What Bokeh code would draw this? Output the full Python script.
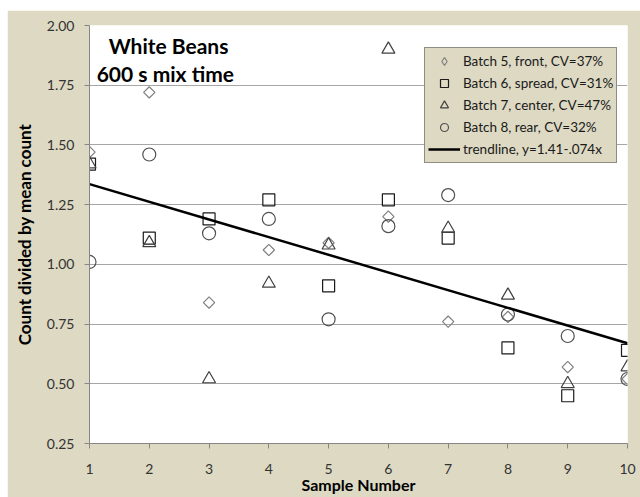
import math
from bokeh.plotting import figure
from bokeh.models import Legend, LegendItem, Label, Range1d, FixedTicker, CustomJSTickFormatter
from bokeh.embed import file_html
from bokeh.resources import INLINE

samples = [1, 2, 3, 4, 5, 6, 7, 8, 9, 10]
batch5_front = [1.47, 1.72, 0.84, 1.06, 1.09, 1.20, 0.76, 0.78, 0.57, 0.52]
batch6_spread = [1.42, 1.11, 1.19, 1.27, 0.91, 1.27, 1.11, 0.65, 0.45, 0.64]
batch7_center = [1.42, 1.09, 0.52, 0.92, 1.08, 1.90, 1.15, 0.87, 0.50, 0.57]
batch8_rear = [1.01, 1.46, 1.13, 1.19, 0.77, 1.16, 1.29, 0.79, 0.70, 0.52]
trend_x = [1, 10]
trend_y = [1.336, 0.670]

labels = ["Batch 5, front, CV=37%", "Batch 6, spread, CV=31%",
          "Batch 7, center, CV=47%", "Batch 8, rear, CV=32%",
          "trendline, y=1.41-.074x"]
y_ticks = [0.25, 0.50, 0.75, 1.00, 1.25, 1.50, 1.75, 2.00]

BEIGE = "#DDD9C3"
FONT = "Lato"
NAN = float("nan")

p = figure(width=633, height=487, output_backend="svg", toolbar_location=None,
           x_range=Range1d(1, 10), y_range=Range1d(0.25, 2.0),
           min_border_left=82, min_border_right=13, min_border_top=15, min_border_bottom=54,
           margin=(10, 0, 0, 7))
p.background_fill_color = "white"
p.border_fill_color = BEIGE
p.outline_line_color = None

for ax in (p.xaxis[0], p.yaxis[0]):
    ax.axis_line_color = "#868686"
    ax.major_tick_line_color = "#868686"
    ax.minor_tick_line_color = None
    ax.major_tick_in = 0
    ax.major_tick_out = 5
    ax.major_label_text_font = FONT
    ax.major_label_text_font_size = "14px"
    ax.major_label_text_color = "#333333"
    ax.axis_label_text_font = FONT
    ax.axis_label_text_font_size = "17px"
    ax.axis_label_text_font_style = "bold"
    ax.axis_label_text_color = "black"

p.xaxis.ticker = FixedTicker(ticks=samples)
p.xaxis.major_label_standoff = 15
p.xaxis.axis_label = "Sample Number"
p.xaxis.axis_label_standoff = -2
p.xaxis.axis_label_text_font_size = "16px"

p.yaxis.ticker = FixedTicker(ticks=y_ticks)
p.yaxis.formatter = CustomJSTickFormatter(code="return tick.toFixed(2);")
p.yaxis.major_label_standoff = 10
p.yaxis.axis_label = "Count divided by mean count"
p.yaxis.axis_label_standoff = 9

p.xgrid.grid_line_color = None
p.ygrid.grid_line_color = "#A6A6A6"
p.ygrid.grid_line_width = 1.2
p.ygrid.ticker = FixedTicker(ticks=y_ticks)

styles = [
    dict(marker="square", angle=math.pi / 4, line_color="#808080"),
    dict(marker="square", angle=0, line_color="#1a1a1a"),
    dict(marker="triangle", angle=0, line_color="#404040"),
    dict(marker="circle", angle=0, line_color="#505050"),
]
legend_styles = [
    dict(marker="diamond", line_color="#808080"),
    dict(marker="square", line_color="#1a1a1a"),
    dict(marker="triangle", line_color="#404040"),
    dict(marker="circle", line_color="#505050"),
]
sizes = [8, 12, 13, 13]
legend_sizes = [10, 9, 9, 9]
series = [batch5_front, batch6_spread, batch7_center, batch8_rear]

legend_renderers = []
for ys, st, lst, sz, lsz in zip(series, styles, legend_styles, sizes, legend_sizes):
    p.scatter(samples, ys, size=sz, fill_color=None, line_width=1.2, **st)
    legend_renderers.append(
        p.scatter([NAN], [NAN], size=lsz, fill_color=None, line_width=1.2, **lst))

rt = p.line(trend_x, trend_y, line_color="black", line_width=2.5)
legend_renderers.append(rt)

legend = Legend(items=[LegendItem(label=lab, renderers=[r])
                       for lab, r in zip(labels, legend_renderers)],
                location=(335, 280))
legend.background_fill_color = BEIGE
legend.background_fill_alpha = 1
legend.border_line_color = "#404040"
legend.border_line_width = 1
legend.label_text_font = FONT
legend.label_text_font_size = "13.5px"
legend.label_text_color = "#1a1a1a"
legend.glyph_width = 32
legend.glyph_height = 20
legend.label_height = 20
legend.spacing = 2
legend.padding = 3
legend.margin = 0
legend.label_standoff = 3
p.add_layout(legend, "center")

p.add_layout(Label(x=1.32, y=1.916, text="White Beans", text_font=FONT,
                   text_font_size="21px", text_font_style="bold",
                   text_baseline="middle", text_color="black"))
p.add_layout(Label(x=1.12, y=1.80, text="600 s mix time", text_font=FONT,
                   text_font_size="21px", text_font_style="bold",
                   text_baseline="middle", text_color="black"))

open("out.html", "w").write(file_html(p, INLINE))
